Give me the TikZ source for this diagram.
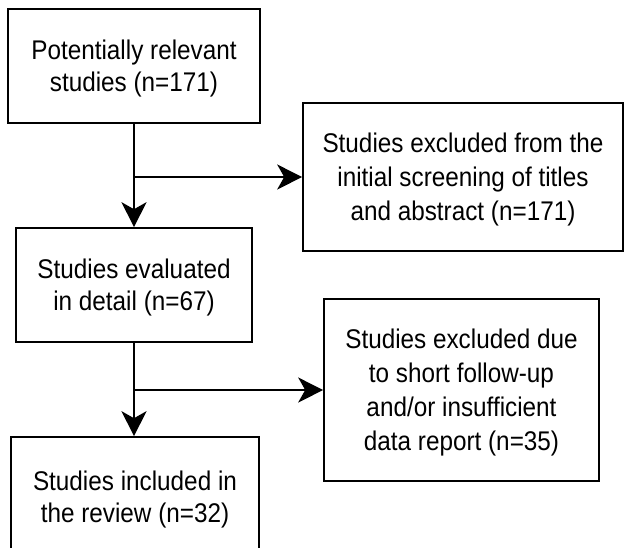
\documentclass[tikz,border=0pt]{standalone}
\usepackage{fontspec}
\setmainfont[FakeStretch=0.9]{Liberation Sans}
\usetikzlibrary{arrows.meta,positioning,calc}

\begin{document}
\begin{tikzpicture}[x=1pt,y=-1pt,
    stagebox/.style={draw,line width=1.6pt,inner sep=0pt,align=center,
      text depth=0pt,font=\fontsize{27}{32}\selectfont},
    exclbox/.style={stagebox,font=\fontsize{27}{34}\selectfont},
    flow/.style={line width=1.6pt,-{Stealth[length=25pt,width=25pt,inset=7pt]}}]
  \useasboundingbox (0,0) rectangle (627,547);
  \node[stagebox,minimum width=252pt,minimum height=114pt] (potential) at (134,66)
    {Potentially relevant\\studies (n=171)};
  \node[exclbox,minimum width=320pt,minimum height=148pt] (exclscreen) at (463,177)
    {Studies excluded from the\\initial screening of titles\\and abstract (n=171)};
  \node[stagebox,minimum width=236pt,minimum height=114pt] (evaluated) at (134,285)
    {Studies evaluated\\in detail (n=67)};
  \node[exclbox,minimum width=275pt,minimum height=182pt,text depth=-6pt] (excldata) at (461.5,390)
    {Studies excluded due\\to short follow-up\\and/or insufficient\\data report (n=35)};
  \node[stagebox,minimum width=248pt,minimum height=120pt] (included) at (135,497)
    {Studies included in\\the review (n=32)};
  % branch points
  \coordinate (split1) at (potential.south |- exclscreen.west);
  \coordinate (split2) at (evaluated.south |- excldata.west);
  \draw[flow] (potential.south) -- (potential.south |- evaluated.north);
  \draw[flow] (split1) -- (exclscreen.west);
  \draw[flow] (evaluated.south) -- (evaluated.south |- included.north);
  \draw[flow] (split2) -- (excldata.west);
\end{tikzpicture}
\end{document}
